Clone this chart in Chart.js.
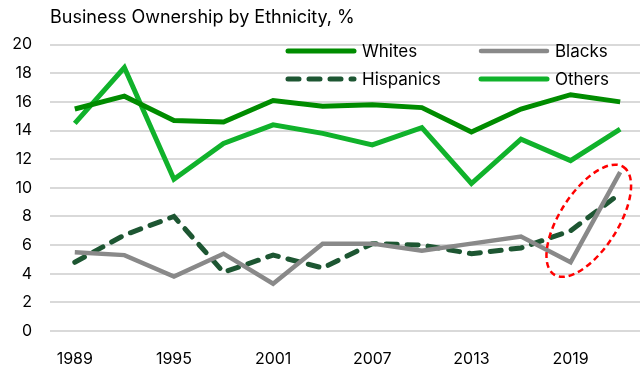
<!DOCTYPE html>
<html>
<head>
<meta charset="utf-8">
<script src="https://cdn.jsdelivr.net/npm/chart.js@4.4.0/dist/chart.umd.min.js"></script>
<style>
  html, body { margin: 0; padding: 0; background: #fff; }
  #wrap { position: relative; width: 641px; height: 368px; }
</style>
</head>
<body>
<div id="wrap"><canvas id="chart"></canvas></div>
<script>
// data
const years = [1989, 1992, 1995, 1998, 2001, 2004, 2007, 2010, 2013, 2016, 2019, 2022];
const tickYears = [1989, 1995, 2001, 2007, 2013, 2019];
const whites    = [15.5, 16.4, 14.7, 14.6, 16.1, 15.7, 15.8, 15.6, 13.9, 15.5, 16.5, 16.0];
const blacks    = [5.5, 5.3, 3.8, 5.4, 3.3, 6.1, 6.1, 5.6, 6.1, 6.6, 4.8, 11.1];
const hispanics = [4.8, 6.7, 8.0, 4.1, 5.3, 4.4, 6.1, 6.0, 5.4, 5.8, 7.0, 9.6];
const others    = [14.5, 18.4, 10.6, 13.1, 14.4, 13.8, 13.0, 14.2, 10.3, 13.4, 11.9, 14.1];

const FONT = 'Inter, Roboto, sans-serif';

function pts(vals) {
  return vals.map((v, i) => ({ x: years[i], y: v }));
}

// legend in 2 columns drawn inside the plot, plus the red ring round the last points
const extras = {
  id: 'extras',
  afterDatasetsDraw(chart) {
    const ctx = chart.ctx;
    const xs = chart.scales.x, ys = chart.scales.y;

    // red dashed ellipse
    ctx.save();
    ctx.beginPath();
    ctx.ellipse(xs.getPixelForValue(2020.1), ys.getPixelForValue(7.7), 64, 29, -1.0, 0, Math.PI * 2);
    ctx.strokeStyle = '#ff0000';
    ctx.lineWidth = 2.5;
    ctx.setLineDash([6, 4]);
    ctx.stroke();
    ctx.restore();

    const items = [
      { ds: 0, x: 288, y: 51 },
      { ds: 1, x: 481, y: 51 },
      { ds: 2, x: 288, y: 79 },
      { ds: 3, x: 481, y: 79 }
    ];
    items.forEach(it => {
      const d = chart.data.datasets[it.ds];
      ctx.save();
      ctx.beginPath();
      ctx.moveTo(it.x, it.y);
      ctx.lineTo(it.x + 66, it.y);
      ctx.strokeStyle = d.borderColor;
      ctx.lineWidth = d.borderWidth;
      ctx.lineCap = 'round';
      ctx.setLineDash(d.borderDash || []);
      ctx.stroke();
      ctx.setLineDash([]);
      ctx.fillStyle = '#000';
      ctx.font = '17px ' + FONT;
      ctx.textBaseline = 'middle';
      ctx.fillText(d.label, it.x + 74, it.y + 1);
      ctx.restore();
    });
  }
};

new Chart(document.getElementById('chart'), {
  type: 'line',
  data: {
    datasets: [
      { label: 'Whites', data: pts(whites), borderColor: '#008c00', borderWidth: 5 },
      { label: 'Blacks', data: pts(blacks), borderColor: '#898989', borderWidth: 4.5 },
      { label: 'Hispanics', data: pts(hispanics), borderColor: '#1d5632', borderWidth: 5,
        borderDash: [11, 10], borderCapStyle: 'round' },
      { label: 'Others', data: pts(others), borderColor: '#10b22b', borderWidth: 5 }
    ]
  },
  options: {
    responsive: true,
    maintainAspectRatio: false,
    animation: false,
    elements: { point: { radius: 0 }, line: { tension: 0, borderJoinStyle: 'miter' } },
    layout: { padding: { left: 0, right: 1, top: 0, bottom: 0 } },
    plugins: {
      legend: { display: false },
      tooltip: { enabled: false },
      title: {
        display: true,
        fullSize: false,
        align: 'start',
        text: 'Business Ownership by Ethnicity, %',
        color: '#000',
        font: { family: FONT, size: 18, weight: 'normal' },
        padding: { top: 7, bottom: 16 }
      }
    },
    scales: {
      x: {
        type: 'linear',
        min: 1987.5,
        max: 2023.2,
        afterBuildTicks(scale) { scale.ticks = tickYears.map(v => ({ value: v })); },
        afterFit(scale) { scale.height = 37; },
        grid: { display: false },
        border: { display: false },
        ticks: {
          color: '#000',
          font: { family: FONT, size: 16 },
          padding: 11,
          maxRotation: 0,
          callback: v => String(v)
        }
      },
      y: {
        min: 0,
        max: 20,
        afterFit(scale) { scale.width = 50; },
        grid: { color: '#d9d9d9', lineWidth: 2, drawTicks: false },
        border: { display: false },
        ticks: {
          stepSize: 2,
          color: '#000',
          font: { family: FONT, size: 16 },
          padding: 18
        }
      }
    }
  },
  plugins: [extras]
});
</script>
</body>
</html>
